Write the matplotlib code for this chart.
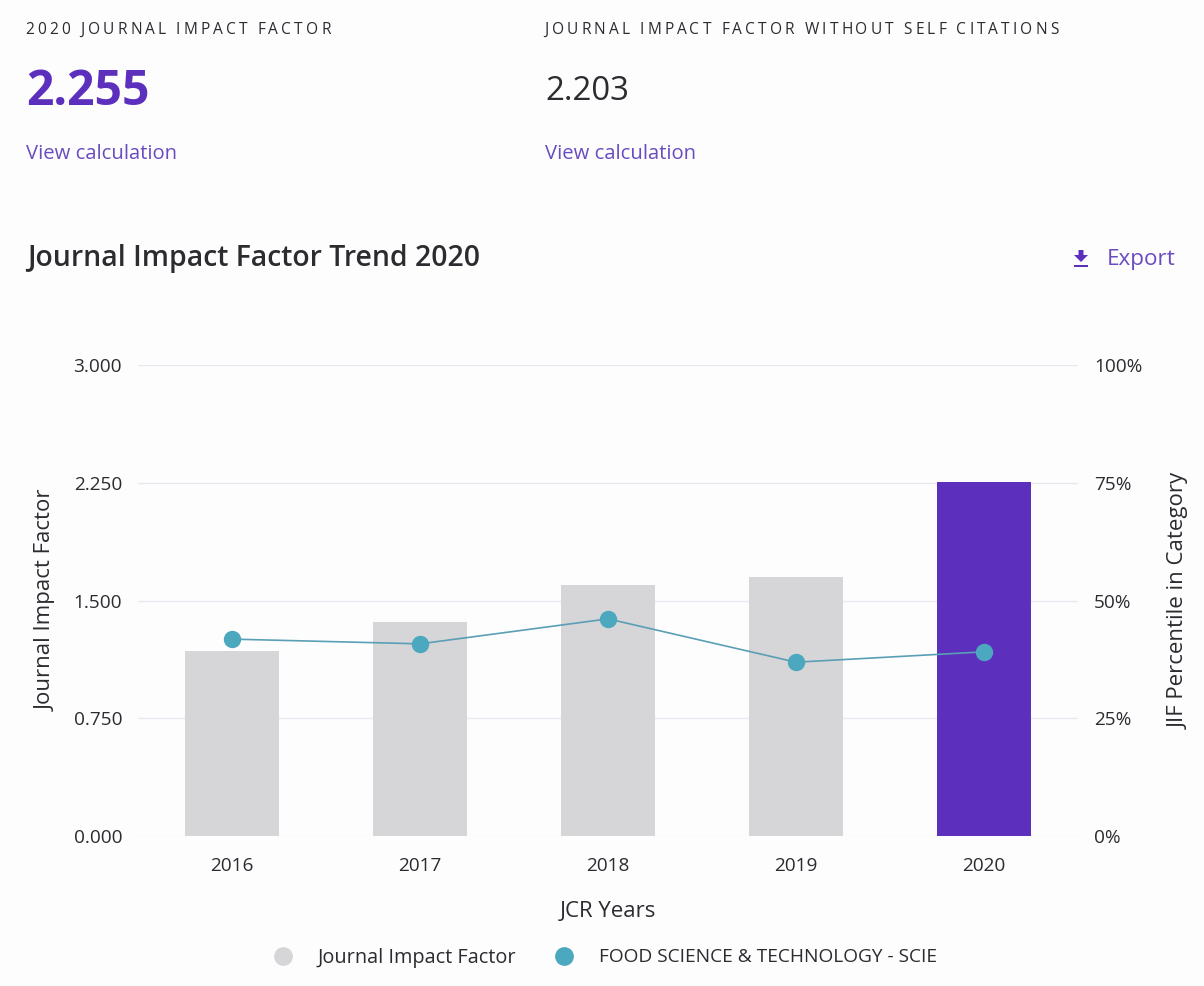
import matplotlib
matplotlib.use("Agg")
import matplotlib.pyplot as plt
from matplotlib.patches import Polygon, Rectangle

years = ["2016", "2017", "2018", "2019", "2020"]
jif_values = [1.178, 1.363, 1.599, 1.650, 2.255]
percentiles = [41.8, 40.8, 46.1, 36.9, 39.1]
left_ticks = [0, 0.75, 1.5, 2.25, 3.0]
right_ticks = [0, 25, 50, 75, 100]

W, H = 1204, 986
BG = "#fdfdfe"
PURPLE = "#5c30bd"
GREY = "#d6d5d8"
TEAL = "#4ba8bf"
LINE = "#5a9fb5"
DARK = "#2b2b30"

plt.rcParams["font.family"] = ["Open Sans", "DejaVu Sans"]
fig = plt.figure(figsize=(W / 100, H / 100), dpi=100, facecolor=BG)


def put(x, y, s, size, color=DARK, **kw):
    kw.setdefault("va", "center")
    return fig.text(x / W, 1 - y / H, s, fontsize=size, color=color, **kw)


def spaced(x, y, s, size, width):
    fig.canvas.draw()
    r = fig.canvas.get_renderer()
    t = put(x, y, s, size)
    natural = t.get_window_extent(r).width
    t.remove()
    extra = (width - natural) / max(len(s) - 1, 1)
    bar = put(0, -100, "||", size)
    bw = bar.get_window_extent(r).width
    bar.remove()
    cx = x
    for ch in s:
        put(cx, y, ch, size)
        adv = put(0, -100, "|" + ch + "|", size)
        w = adv.get_window_extent(r).width - bw
        adv.remove()
        cx += w + extra


spaced(25.5, 29.5, "2020 JOURNAL IMPACT FACTOR", 11.2, 305)
spaced(544.5, 29.5, "JOURNAL IMPACT FACTOR WITHOUT SELF CITATIONS", 11.2, 514)
put(26, 92.5, "2.255", 34.6, PURPLE, fontweight="bold")
put(545, 91.5, "2.203", 23.8)
put(26, 154, "View calculation", 14.6, "#6a4cc0")
put(545, 154, "View calculation", 14.6, "#6a4cc0")
put(27, 258.5, "Journal Impact Factor Trend 2020", 20.4, DARK, fontweight="semibold")
put(1107, 259.5, "Export", 16.2, "#6a4cc0")

# Export icon
to_fig = lambda px, py: (px / W, 1 - py / H)
fig.add_artist(Polygon([to_fig(*p) for p in [(1078.5, 250), (1083.5, 250), (1083.5, 255),
                                              (1088, 255), (1081, 262), (1074, 255), (1078.5, 255)]],
                       closed=True, transform=fig.transFigure, fc=PURPLE, ec="none"))
fig.add_artist(Rectangle(to_fig(1074, 267), 14 / W, 2.2 / H, transform=fig.transFigure, fc=PURPLE, ec="none"))

# Plot area
left, right, top, bottom = 138, 1078, 365, 836
ax = fig.add_axes([left / W, 1 - bottom / H, (right - left) / W, (bottom - top) / H])
ax.set_facecolor("none")
xs = list(range(len(years)))
colors = [GREY] * 4 + [PURPLE]
ax.bar(xs, jif_values, width=0.5, color=colors, zorder=2, label="Journal Impact Factor")
ax.set_xlim(-0.5, 4.5)
ax.set_ylim(0, 3)
ax.set_yticks(left_ticks, [f"{v:.3f}" for v in left_ticks])
ax.set_xticks(xs, years)
ax.grid(axis="y", color="#e8e9ee", lw=1.0, zorder=0)
ax.set_axisbelow(True)
for s in ax.spines.values():
    s.set_visible(False)
ax.tick_params(axis="both", length=0, labelsize=13.7, labelcolor=DARK)
ax.tick_params(axis="x", pad=15)
ax.tick_params(axis="y", pad=11.5)
ax.set_xlabel("JCR Years", fontsize=16, color=DARK, labelpad=19)
ax.set_ylabel("Journal Impact Factor", fontsize=16, color=DARK, labelpad=12)

ax2 = ax.twinx()
ax2.set_ylim(0, 100)
ax2.set_yticks(right_ticks, [f"{v}%" for v in right_ticks])
for s in ax2.spines.values():
    s.set_visible(False)
ax2.tick_params(axis="y", length=0, labelsize=13.7, labelcolor=DARK, pad=11.5)
ax2.set_ylabel("JIF Percentile in Category", fontsize=16, color=DARK, labelpad=19)
ax2.plot(xs, percentiles, color=LINE, lw=1.2, marker="o", ms=11.5, mfc=TEAL, mec=TEAL, zorder=4)

# Legend
lax = fig.add_axes([0, 0, 1, 1], facecolor="none")
lax.set_xlim(0, W)
lax.set_ylim(H, 0)
lax.axis("off")
lax.plot([283], [956], "o", ms=12.5, color=GREY)
lax.plot([563.5], [956], "o", ms=12.5, color=TEAL)
put(318, 957.5, "Journal Impact Factor", 14.3)
put(599, 957.5, "FOOD SCIENCE & TECHNOLOGY - SCIE", 13.75)

fig.savefig("out.png", dpi=100, facecolor=BG)
